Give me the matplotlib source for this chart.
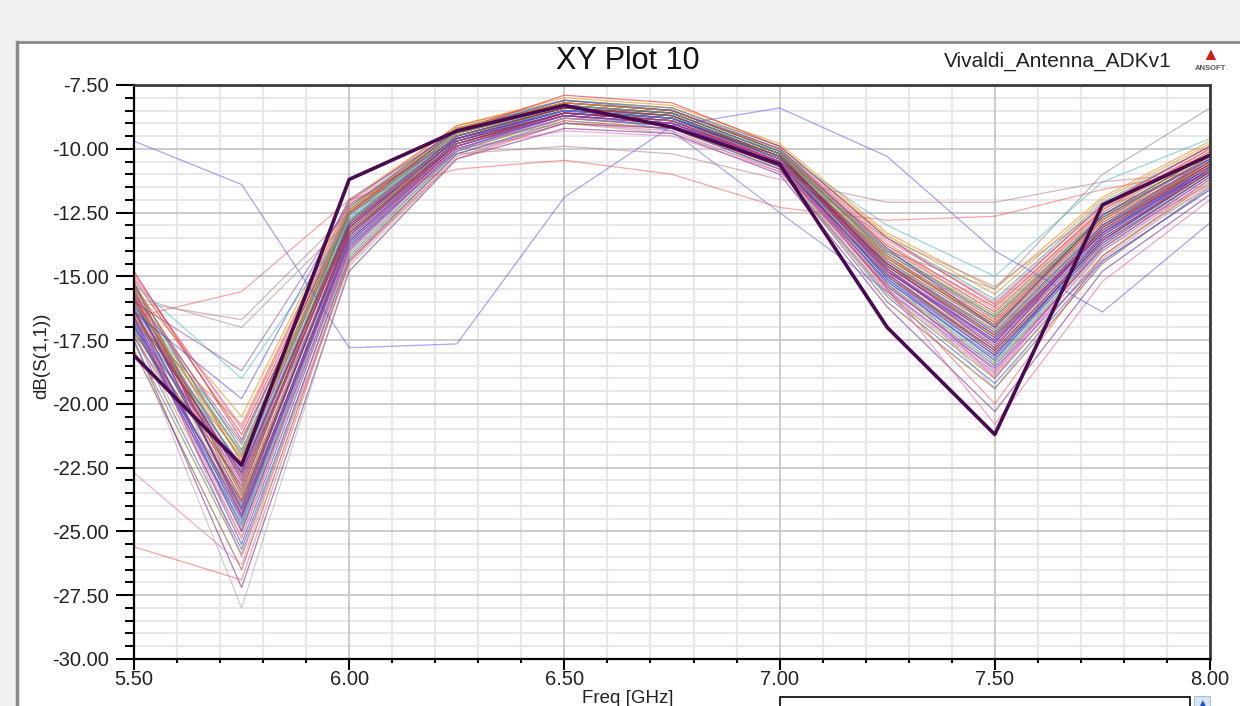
import numpy as np
import matplotlib
matplotlib.use("Agg")
import matplotlib.pyplot as plt
from matplotlib.patches import Rectangle
from matplotlib.ticker import MultipleLocator, FormatStrFormatter

plt.rcParams['font.family'] = ['Liberation Sans', 'DejaVu Sans']

W, H = 1240, 706

freq = [5.50, 5.75, 6.00, 6.25, 6.50, 6.75, 7.00, 7.25, 7.50, 7.75, 8.00]

# highlighted trace (thick)
s11_main = [-18.1, -22.4, -11.2, -9.3, -8.3, -9.15, -10.6, -17.0, -21.2, -12.2, -10.25]

# odd traces that leave the bundle
s11_blue_out = [-9.7, -11.4, -17.8, -17.65, -11.9, -9.1, -8.4, -10.3, -14.0, -16.4, -12.9]
s11_red_flat = [-16.6, -15.6, -12.0, -10.8, -10.45, -11.0, -12.3, -12.8, -12.65, -11.6, -10.8]
s11_mauve_flat = [-16.0, -16.7, -12.5, -10.2, -9.9, -10.2, -11.2, -12.1, -12.1, -11.3, -10.9]
s11_gray_flat = [-15.8, -17.0, -12.8, -9.8, -9.0, -9.4, -10.8, -13.5, -15.4, -12.3, -10.8]
s11_pink_low = [-22.7, -26.3, -14.0, -10.0, -9.3, -9.5, -10.9, -14.8, -19.0, -13.6, -11.4]
s11_red_low = [-25.6, -26.9, -14.4, -10.4, -9.0, -9.2, -10.7, -15.5, -20.0, -14.2, -11.2]
s11_cyan_hi = [-15.3, -19.0, -12.9, -9.5, -8.5, -8.8, -10.1, -13.0, -15.0, -11.3, -9.6]
s11_blue_b = [-16.8, -22.8, -13.8, -10.1, -8.5, -9.3, -12.5, -15.6, -18.6, -14.4, -11.6]
s11_gray_low = [-17.5, -28.0, -14.6, -10.4, -8.8, -8.9, -10.4, -14.9, -19.4, -14.0, -11.5]
s11_purple_hi = [-16.0, -18.7, -12.2, -9.6, -8.7, -9.0, -10.5, -14.5, -17.6, -13.0, -10.9]
s11_blue_hi = [-16.4, -19.8, -12.0, -9.3, -8.1, -8.5, -10.0, -13.9, -17.0, -12.6, -10.4]

# main bundle of the sweep
bundle = [
    [-15.1, -21.2, -12.3, -9.2, -8.2, -8.5, -10.1, -13.8, -16.2, -12.4, -10.0],
    [-15.6, -22.0, -12.7, -9.4, -8.4, -8.7, -10.3, -14.3, -16.9, -12.8, -10.3],
    [-16.2, -23.1, -13.1, -9.6, -8.5, -8.8, -10.4, -14.7, -17.5, -13.2, -10.6],
    [-16.8, -24.3, -13.6, -9.8, -8.6, -8.9, -10.5, -15.1, -18.1, -13.6, -10.9],
    [-15.4, -21.8, -12.5, -9.3, -8.3, -8.6, -10.2, -14.0, -16.6, -12.6, -10.2],
    [-17.2, -25.2, -13.9, -9.9, -8.7, -9.0, -10.6, -15.4, -18.6, -13.9, -11.1],
    [-15.9, -22.6, -12.9, -9.5, -8.4, -8.7, -10.3, -14.5, -17.2, -13.0, -10.4],
    [-16.5, -23.7, -13.4, -9.7, -8.6, -8.8, -10.4, -14.9, -17.8, -13.4, -10.7],
    [-15.0, -20.9, -12.1, -9.1, -8.1, -8.4, -10.0, -13.6, -16.0, -12.2, -9.9],
    [-17.6, -25.9, -14.2, -10.1, -8.8, -9.1, -10.7, -15.7, -19.0, -14.2, -11.3],
    [-16.0, -23.4, -13.0, -9.6, -8.5, -8.8, -10.3, -14.4, -17.0, -12.9, -10.5],
    [-16.3, -24.0, -13.3, -9.7, -8.6, -8.9, -10.5, -14.8, -17.6, -13.3, -10.8],
    [-15.3, -22.3, -12.6, -9.4, -8.3, -8.6, -10.2, -14.1, -16.7, -12.7, -10.3],
    [-16.9, -24.8, -13.7, -9.9, -8.7, -9.0, -10.6, -15.2, -18.3, -13.7, -11.0],
    [-15.7, -21.5, -12.4, -9.3, -8.2, -8.5, -10.1, -13.9, -16.4, -12.5, -10.1],
    [-16.6, -25.5, -14.0, -10.0, -8.7, -9.0, -10.6, -15.0, -17.9, -13.5, -10.8],
    [-17.9, -26.5, -14.4, -10.2, -8.9, -9.2, -10.8, -16.0, -19.4, -14.5, -11.5],
    [-15.5, -20.5, -12.0, -9.1, -8.1, -8.4, -9.9, -13.4, -15.7, -12.0, -9.8],
    [-16.1, -22.9, -12.8, -9.5, -8.5, -8.7, -10.3, -14.6, -17.3, -13.1, -10.6],
    [-16.4, -24.6, -13.5, -9.8, -8.6, -8.9, -10.5, -15.0, -18.0, -13.6, -10.9],
    [-14.9, -21.0, -12.2, -9.2, -8.2, -8.5, -10.0, -13.7, -16.3, -12.3, -10.0],
    [-17.1, -24.1, -13.2, -9.6, -8.4, -8.7, -10.4, -15.3, -18.4, -13.8, -11.0],
    [-15.8, -23.0, -13.1, -9.6, -8.5, -8.8, -10.4, -14.2, -16.8, -12.7, -10.4],
    [-16.7, -22.4, -12.6, -9.4, -8.3, -8.6, -10.2, -14.6, -17.4, -13.2, -10.7],
    [-15.2, -24.4, -13.8, -9.9, -8.6, -8.9, -10.5, -14.3, -16.9, -12.8, -10.5],
    [-16.0, -21.6, -12.3, -9.2, -8.1, -8.4, -9.9, -13.5, -15.9, -12.1, -9.9],
    [-17.4, -23.8, -13.4, -9.7, -8.5, -8.8, -10.5, -15.5, -18.8, -14.0, -11.2],
    [-16.3, -25.0, -13.9, -10.0, -8.8, -9.1, -10.7, -15.2, -18.2, -13.7, -11.0],
    [-15.6, -23.6, -13.2, -9.7, -8.6, -8.9, -10.4, -14.5, -17.1, -13.0, -10.6],
    [-16.8, -20.8, -12.1, -9.1, -8.0, -8.3, -9.8, -13.3, -15.5, -11.9, -9.7],
    [-17.0, -22.7, -12.9, -9.5, -8.4, -8.7, -10.3, -14.8, -17.7, -13.4, -10.8],
    [-15.4, -24.9, -14.1, -10.1, -8.8, -9.1, -10.6, -14.6, -17.3, -13.1, -10.7],
    [-16.1, -26.0, -14.5, -10.3, -9.0, -9.3, -10.9, -15.6, -18.9, -14.3, -11.4],
    [-16.6, -22.1, -12.5, -9.3, -8.2, -8.5, -10.1, -14.0, -16.5, -12.6, -10.2],
    [-15.8, -24.2, -13.6, -9.8, -8.7, -9.0, -10.6, -14.9, -17.9, -13.5, -10.9],
    [-17.3, -25.7, -14.3, -10.2, -9.0, -9.2, -10.8, -15.8, -19.2, -14.4, -11.6],
    [-14.8, -21.4, -12.5, -9.3, -7.9, -8.2, -9.9, -13.5, -16.1, -12.2, -9.9],
    [-16.2, -22.5, -12.8, -9.4, -8.3, -8.6, -10.2, -14.4, -17.2, -13.0, -10.5],
    [-15.5, -23.3, -13.0, -9.6, -8.5, -8.8, -10.4, -14.7, -17.6, -13.3, -10.8],
    [-16.9, -24.5, -13.7, -9.9, -8.7, -9.0, -10.7, -15.4, -18.5, -13.9, -11.1],
    [-16.3, -23.9, -13.3, -9.7, -8.6, -8.8, -10.3, -14.6, -17.4, -13.2, -10.6],
    [-15.9, -22.2, -12.6, -9.4, -8.3, -8.6, -10.2, -14.3, -16.8, -12.8, -10.3],
    [-17.5, -27.2, -14.8, -10.4, -9.2, -9.4, -11.0, -16.2, -20.3, -14.8, -11.8],
    [-15.2, -22.8, -12.9, -9.5, -8.4, -8.7, -10.3, -14.0, -15.5, -11.0, -8.4],
    [-16.5, -25.3, -13.8, -10.0, -8.8, -9.0, -10.5, -15.5, -20.8, -15.2, -12.0],
    [-15.3, -23.5, -12.4, -9.2, -8.2, -8.5, -10.1, -14.2, -17.0, -12.6, -10.2],
    [-16.4, -22.7, -13.0, -9.5, -8.4, -8.6, -10.2, -14.7, -17.8, -13.1, -10.5],
    [-17.0, -24.7, -13.5, -9.7, -8.5, -8.8, -10.4, -15.1, -18.3, -13.4, -10.7],
    [-15.7, -23.8, -13.3, -9.8, -8.6, -8.9, -10.5, -14.5, -17.3, -13.3, -10.6],
    [-16.1, -21.9, -12.6, -9.3, -8.3, -8.6, -10.2, -14.1, -16.6, -12.7, -10.4],
    [-16.7, -25.0, -13.6, -9.9, -8.7, -9.0, -10.5, -15.3, -18.7, -13.8, -11.0],
    [-15.9, -24.1, -13.1, -9.6, -8.5, -8.8, -10.4, -14.8, -17.5, -13.3, -10.7],
    [-17.2, -23.2, -12.9, -9.5, -8.4, -8.7, -10.3, -14.9, -18.0, -13.6, -10.9],
    [-16.0, -22.0, -12.4, -9.2, -8.2, -8.5, -10.0, -13.8, -16.4, -12.4, -10.1],
    [-16.6, -24.4, -13.4, -9.8, -8.6, -8.9, -10.6, -15.0, -18.1, -13.6, -10.8],
]

palette = ['#e0282c', '#2f9fa8', '#c040a0', '#3a3ad8', '#8a4a2a', '#f08a20',
           '#7a2a90', '#909090', '#e86aa0', '#7a7a20', '#b01840', '#4060c0']

title = "XY Plot 10"
subtitle = "Vivaldi_Antenna_ADKv1"
xlabel = "Freq [GHz]"
ylabel = "dB(S(1,1))"


def px(x, y):
    return x / W, 1 - y / H


fig = plt.figure(figsize=(W / 100, H / 100), dpi=100)
fig.patch.set_facecolor('white')

# window chrome
fig.add_artist(Rectangle(px(0, 41), 1, 41 / H, transform=fig.transFigure,
                         facecolor='#f0f0f0', edgecolor='none', zorder=0))
fig.add_artist(Rectangle((0, 0), 16 / W, 1, transform=fig.transFigure,
                         facecolor='#f0f0f0', edgecolor='none', zorder=0))
fig.add_artist(plt.Line2D([17 / W, 17 / W], [0, 1 - 42 / H], transform=fig.transFigure,
                          color='#8a8a8a', lw=2.5))
fig.add_artist(plt.Line2D([17 / W, 1], [1 - 42 / H, 1 - 42 / H], transform=fig.transFigure,
                          color='#8a8a8a', lw=2))

l, t = px(134, 85)
r, b = px(1210, 659)
ax = fig.add_axes([l, b, r - l, t - b])

for i, s in enumerate(bundle):
    ax.plot(freq, s, color=palette[i % len(palette)], lw=0.9, alpha=0.6, zorder=2)

odd = [(s11_blue_out, '#5050e8'), (s11_red_flat, '#f05050'), (s11_mauve_flat, '#b07080'),
       (s11_gray_flat, '#a08080'), (s11_pink_low, '#e060b0'), (s11_red_low, '#f04848'),
       (s11_cyan_hi, '#40b0c0'), (s11_blue_b, '#6060e0'), (s11_gray_low, '#a0a0a0'),
       (s11_purple_hi, '#8a3aa0'), (s11_blue_hi, '#4040e0')]
for s, c in odd:
    ax.plot(freq, s, color=c, lw=0.9, alpha=0.5, zorder=2)

ax.plot(freq, s11_main, color='#4a0a50', lw=2.6, zorder=3)

ax.set_xlim(5.5, 8.0)
ax.set_ylim(-30, -7.5)
ax.xaxis.set_major_locator(MultipleLocator(0.5))
ax.xaxis.set_minor_locator(MultipleLocator(0.1))
ax.yaxis.set_major_locator(MultipleLocator(2.5))
ax.yaxis.set_minor_locator(MultipleLocator(0.5))
ax.xaxis.set_major_formatter(FormatStrFormatter('%.2f'))
ax.yaxis.set_major_formatter(FormatStrFormatter('%.2f'))

# light minor grid, then the darker major grid on top of it
ax.grid(which='minor', color='#e8e8e8', lw=1.5, zorder=0)
for v in ax.get_xticks():
    ax.axvline(v, color='#c4c4c4', lw=1.2, zorder=1)
for v in ax.get_yticks():
    ax.axhline(v, color='#c4c4c4', lw=1.2, zorder=1)
ax.set_axisbelow(True)

ax.yaxis.set_tick_params(which='major', direction='out', length=13, width=1.5, pad=5,
                         labelsize=14.5, color='black', labelcolor='#222222')
ax.yaxis.set_tick_params(which='minor', direction='out', length=6.5, width=1.5)
ax.xaxis.set_tick_params(which='major', direction='out', length=8, width=1.5, pad=0,
                         labelsize=14.5, color='black', labelcolor='#222222')
ax.xaxis.set_tick_params(which='minor', direction='out', length=3, width=1.5)

for side in ['left', 'bottom']:
    ax.spines[side].set_color('black')
    ax.spines[side].set_linewidth(1.6)
for side in ['top', 'right']:
    ax.spines[side].set_color('#3a3a3a')
    ax.spines[side].set_linewidth(2)

fig.text(*px(628, 61), title, ha='center', va='center', fontsize=22, color='#111111')
fig.text(*px(1172, 61), subtitle, ha='right', va='center', fontsize=15, color='#222222')
fig.text(*px(1210, 55), '\u25b2', ha='center', va='center', fontsize=13, color='#d02020')
fig.text(*px(1210, 69), 'ANSOFT', ha='center', va='center', fontsize=5.5,
         color='#555555', fontweight='bold')
fig.text(*px(42, 356), ylabel, ha='center', va='center', rotation=90, fontsize=13.5,
         color='#222222')
fig.text(*px(628, 690), xlabel, ha='center', va='top', fontsize=13.5, color='#222222')

# legend box peeking in at the bottom
fig.add_artist(Rectangle(px(780, 720), 410 / W, 23 / H, transform=fig.transFigure,
                         facecolor='white', edgecolor='black', lw=1.2))
fig.add_artist(Rectangle(px(1194, 712), 16 / W, 16 / H, transform=fig.transFigure,
                         facecolor='#d8e6f8', edgecolor='#a8c0e0', lw=0.8))
fig.text(*px(1202, 703), '\u25b2', ha='center', va='center', fontsize=7, color='#2050c0')

fig.savefig('out.png', dpi=100)
